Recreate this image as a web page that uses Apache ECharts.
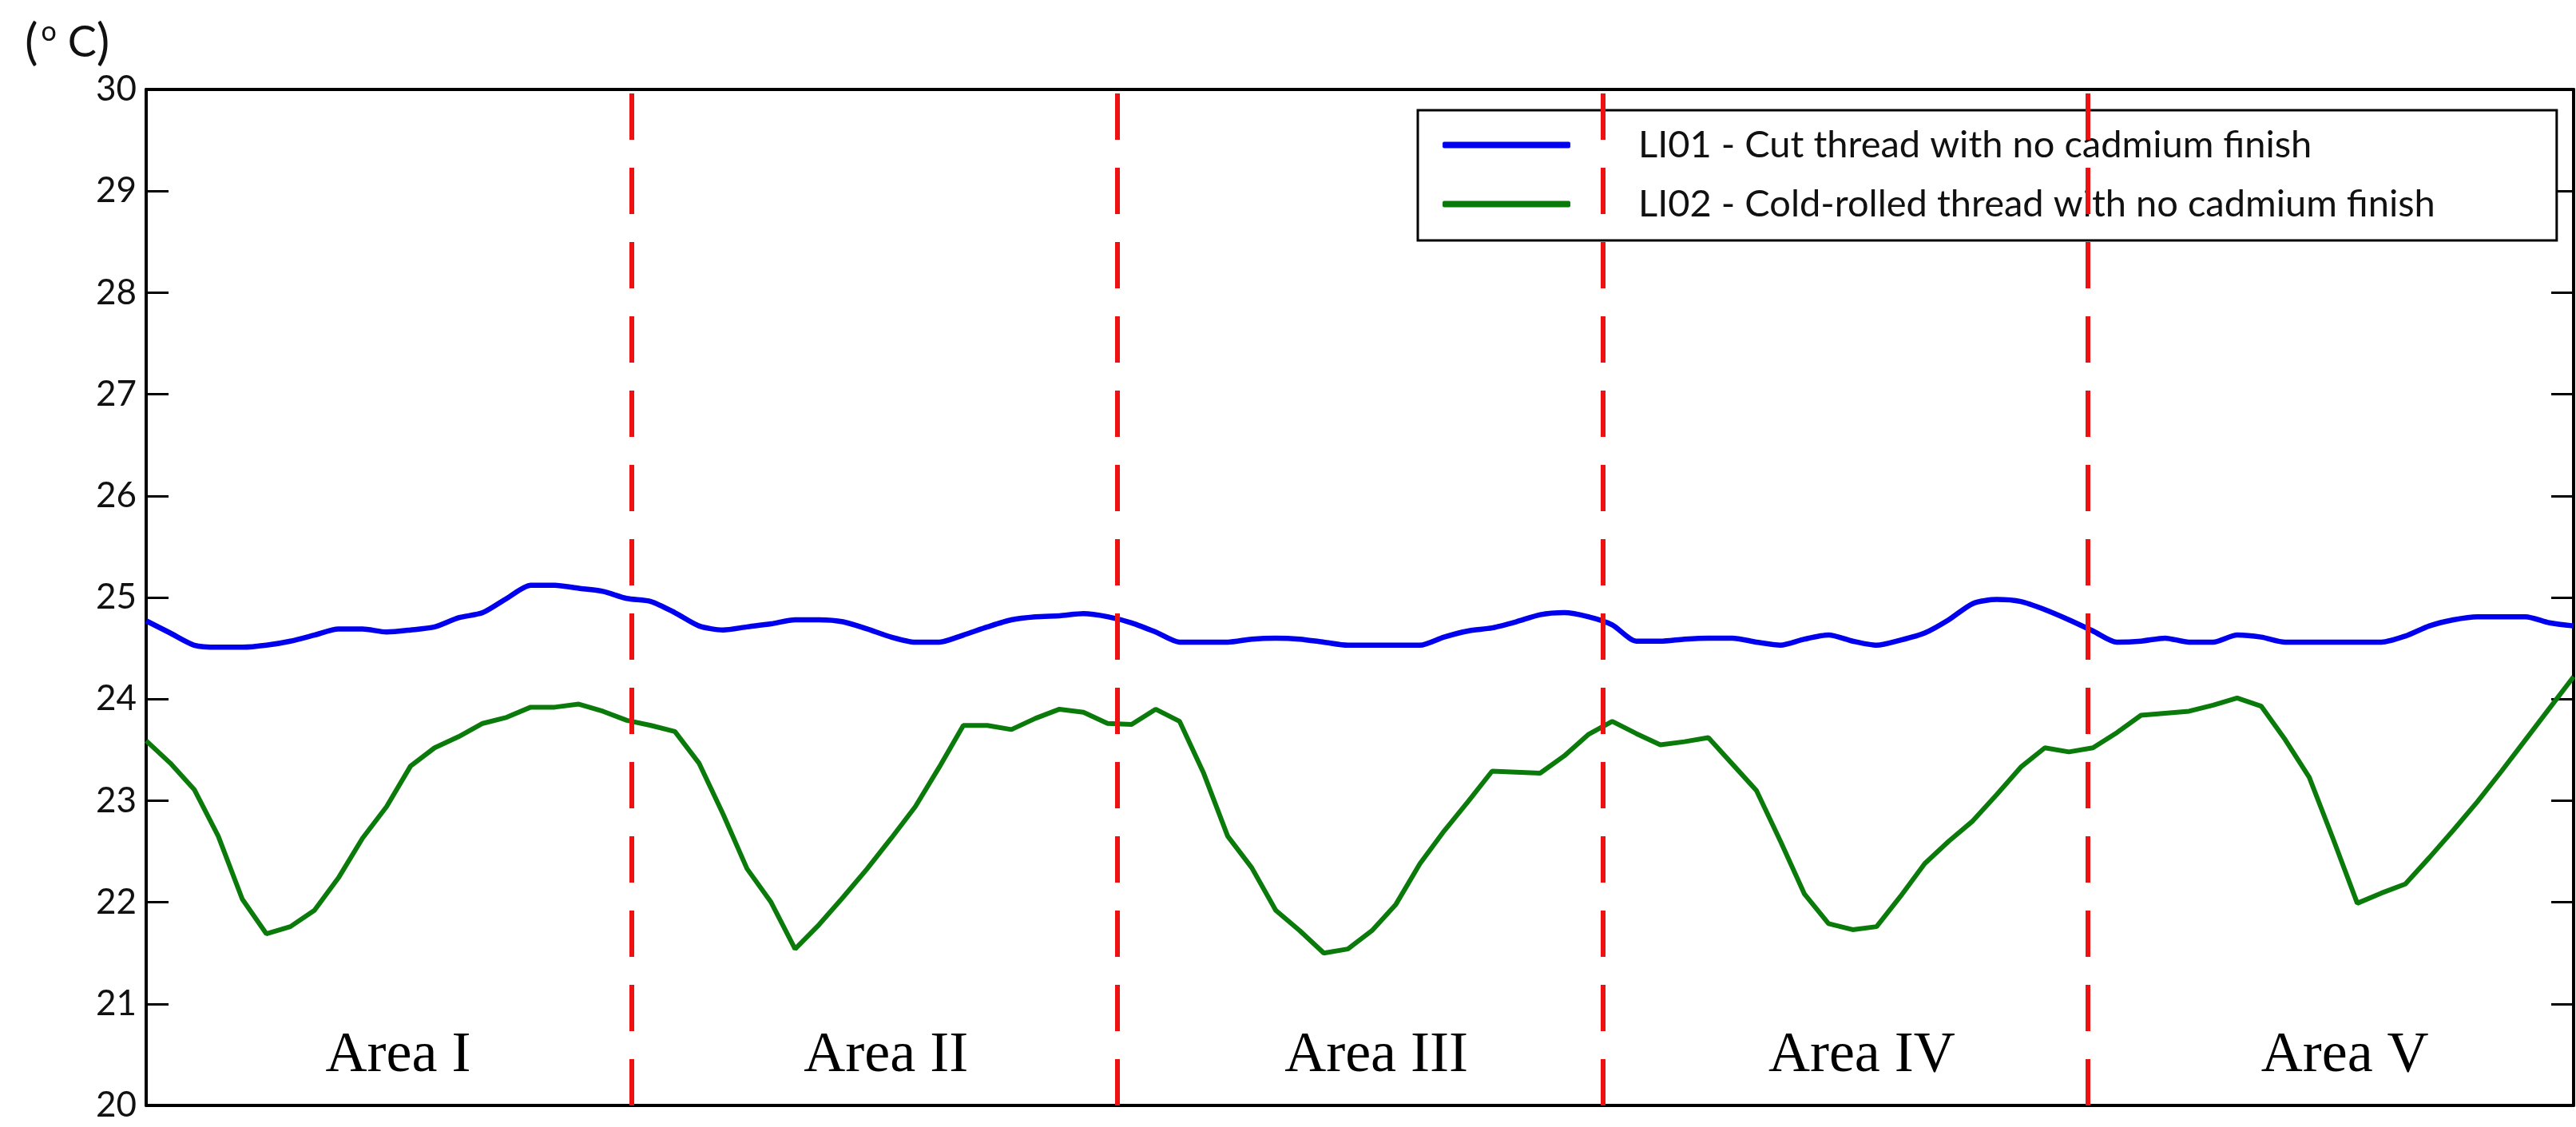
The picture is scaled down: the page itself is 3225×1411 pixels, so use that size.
<!DOCTYPE html>
<html>
<head>
<meta charset="utf-8">
<script src="https://cdn.jsdelivr.net/npm/echarts@6/dist/echarts.min.js"></script>
<style>
html,body{margin:0;padding:0;background:#fff;}
#chart{width:3225px;height:1411px;}
</style>
</head>
<body>
<div id="chart"></div>
<script>
// Sample values (°C), one per time step across the five areas
const li01 = [24.77,24.65,24.53,24.51,24.51,24.53,24.57,24.63,24.69,24.69,24.66,24.68,24.71,24.80,24.85,24.99,25.12,25.12,25.09,25.06,
  24.99,24.96,24.85,24.72,24.68,24.71,24.74,24.78,24.78,24.76,24.69,24.61,24.56,24.56,24.63,24.71,24.78,24.81,24.82,24.84,
  24.81,24.75,24.66,24.56,24.56,24.56,24.59,24.60,24.59,24.56,24.53,24.53,24.53,24.53,24.61,24.67,24.70,24.76,24.83,24.85,
  24.81,24.73,24.57,24.57,24.59,24.60,24.60,24.56,24.53,24.59,24.63,24.57,24.53,24.58,24.65,24.78,24.94,24.98,24.96,24.88,
  24.78,24.67,24.56,24.57,24.60,24.56,24.56,24.63,24.61,24.56,24.56,24.56,24.56,24.56,24.62,24.72,24.78,24.81,24.81,24.81,
  24.75,24.72];
const li02 = [23.59,23.37,23.11,22.65,22.03,21.69,21.76,21.92,22.24,22.63,22.94,23.34,23.52,23.63,23.76,23.82,23.92,23.92,23.95,23.88,
  23.79,23.74,23.68,23.37,22.87,22.33,22.00,21.54,21.78,22.05,22.33,22.63,22.94,23.33,23.74,23.74,23.70,23.81,23.90,23.87,
  23.76,23.75,23.90,23.78,23.27,22.65,22.34,21.92,21.72,21.50,21.54,21.72,21.98,22.38,22.70,22.99,23.29,23.28,23.27,23.44,
  23.65,23.78,23.66,23.55,23.58,23.62,23.36,23.10,22.60,22.08,21.79,21.73,21.76,22.06,22.38,22.60,22.80,23.06,23.33,23.52,
  23.48,23.52,23.67,23.84,23.86,23.88,23.94,24.01,23.93,23.60,23.23,22.62,21.99,22.09,22.18,22.44,22.71,22.99,23.29,23.60,
  23.91,24.22];
const seriesNames = ['LI01 - Cut thread with no cadmium finish', 'LI02 - Cold-rolled thread with no cadmium finish'];
const areaBounds = [20.2, 40.4, 60.6, 80.8];
const areaLabels = ['Area I', 'Area II', 'Area III', 'Area IV', 'Area V'];
const areaLabelX = [10.5, 30.8, 51.2, 71.4, 91.5];
const areaLabelY = 20.48;
const yTicks = [20, 21, 22, 23, 24, 25, 26, 27, 28, 29, 30];
const xMax = 101;

const chart = echarts.init(document.getElementById('chart'), null, {renderer: 'canvas'});
const axisLine = {show: true, onZero: false, lineStyle: {color: '#000', width: 4}};
const option = {
  animation: false,
  backgroundColor: '#fff',
  title: {
    left: 26, top: 18,
    text: '{p|(}{o|o}{c| C}{p|)}',
    textStyle: {
      fontWeight: 'normal',
      rich: {
        p: {fontFamily: 'Lato', fontSize: 62, fontWeight: 'normal', color: '#111'},
        c: {fontFamily: 'Lato', fontSize: 54, fontWeight: 'normal', color: '#111'},
        o: {fontFamily: 'Lato', fontSize: 34, fontWeight: 'normal', color: '#111', verticalAlign: 'top', padding: [0, 0, 0, 4]}
      }
    }
  },
  grid: {left: 183, right: 3, top: 112, bottom: 27},
  legend: {
    orient: 'vertical', left: 1775, top: 138,
    padding: [20, 152, 22, 31],
    borderColor: '#000', borderWidth: 3, backgroundColor: '#fff',
    itemWidth: 160, itemHeight: 8, itemGap: 27, icon: 'roundRect',
    textStyle: {fontFamily: 'Lato', fontSize: 47, color: '#111', padding: [0, 0, 0, 80]},
    data: seriesNames
  },
  xAxis: [
    {type: 'value', min: 0, max: xMax, position: 'bottom', axisLine: axisLine,
     axisTick: {show: false}, axisLabel: {show: false}, splitLine: {show: false}},
    {type: 'value', min: 0, max: xMax, position: 'top', axisLine: axisLine,
     axisTick: {show: false}, axisLabel: {show: false}, splitLine: {show: false}}
  ],
  yAxis: [
    {type: 'value', min: yTicks[0], max: yTicks[yTicks.length - 1], interval: 1, position: 'left',
     axisLine: axisLine,
     axisTick: {show: true, inside: true, length: 28, lineStyle: {color: '#000', width: 3}},
     axisLabel: {show: true, margin: 12, fontFamily: 'Lato', fontSize: 44, color: '#111'},
     splitLine: {show: false}},
    {type: 'value', min: yTicks[0], max: yTicks[yTicks.length - 1], interval: 1, position: 'right',
     axisLine: axisLine,
     axisTick: {show: true, inside: true, length: 28, lineStyle: {color: '#000', width: 3}},
     axisLabel: {show: false}, splitLine: {show: false}}
  ],
  series: [
    {
      name: seriesNames[0], type: 'line', xAxisIndex: 0, yAxisIndex: 0,
      data: li01.map((v, i) => [i, v]),
      symbol: 'none', smooth: 0.25,
      lineStyle: {color: '#0000ee', width: 6.5}, itemStyle: {color: '#0000ee'},
      silent: true, z: 3
    },
    {
      name: seriesNames[1], type: 'line', xAxisIndex: 0, yAxisIndex: 0,
      data: li02.map((v, i) => [i, v]),
      symbol: 'none',
      lineStyle: {color: '#0a7a0a', width: 6}, itemStyle: {color: '#0a7a0a'},
      silent: true, z: 3,
      markLine: {
        silent: true, symbol: ['none', 'none'], animation: false,
        label: {show: false},
        lineStyle: {color: '#ee1111', width: 6, type: [58, 35]},
        emphasis: {disabled: true},
        data: areaBounds.map(b => ({xAxis: b}))
      }
    },
    {
      name: 'areas', type: 'scatter', xAxisIndex: 0, yAxisIndex: 0,
      data: areaLabels.map((t, i) => ({name: t, value: [areaLabelX[i], areaLabelY]})),
      symbolSize: 1, itemStyle: {color: '#fff', opacity: 0}, silent: true, z: 4,
      label: {show: true, position: [0, 0], align: 'center', verticalAlign: 'middle',
        formatter: p => p.name,
        fontFamily: 'Liberation Serif', fontSize: 72, color: '#000', opacity: 1}
    }
  ]
};
chart.setOption(option);
</script>
</body>
</html>
